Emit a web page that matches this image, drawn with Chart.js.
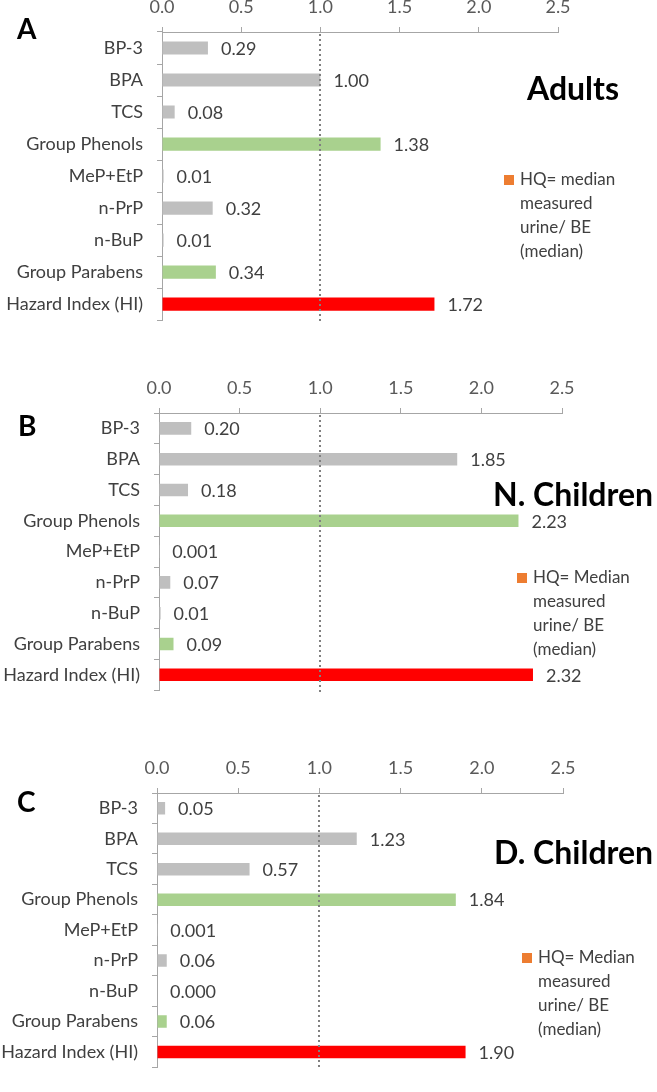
<!DOCTYPE html>
<html>
<head>
<meta charset="utf-8">
<script src="https://cdn.jsdelivr.net/npm/chart.js@4.4.1/dist/chart.umd.min.js"></script>
<style>
  html, body { margin: 0; padding: 0; background: #fff; }
  body { width: 657px; height: 1092px; position: relative; overflow: hidden; font-family: Lato, sans-serif; }
  canvas { position: absolute; left: 0; }
  .letter { position: absolute; font: bold 28px Lato, sans-serif; line-height: 1; color: #000; }
  .title  { position: absolute; font: bold 32px Lato, sans-serif; line-height: 1; color: #000; white-space: nowrap; }
  .legend { position: absolute; font: 17px Lato, sans-serif; line-height: 24px; color: #404040; white-space: nowrap; }
  .sq     { position: absolute; width: 10px; height: 10px; background: #ed7d31; }
</style>
</head>
<body>

<canvas id="chartA" width="657" height="345" style="top:0px"></canvas>
<canvas id="chartB" width="657" height="365" style="top:350px"></canvas>
<canvas id="chartC" width="657" height="362" style="top:730px"></canvas>

<div class="letter" style="left:17px;top:14px">A</div>
<div class="title"  style="left:527px;top:72px">Adults</div>
<div class="sq"     style="left:504px;top:175px"></div>
<div class="legend" style="left:520px;top:167px">HQ= median<br>measured<br>urine/ BE<br>(median)</div>

<div class="letter" style="left:18px;top:411px">B</div>
<div class="title"  style="left:493px;top:478px">N. Children</div>
<div class="sq"     style="left:517px;top:573px"></div>
<div class="legend" style="left:533px;top:565px">HQ= Median<br>measured<br>urine/ BE<br>(median)</div>

<div class="letter" style="left:17px;top:787px">C</div>
<div class="title"  style="left:494px;top:836px">D. Children</div>
<div class="sq"     style="left:522px;top:953px"></div>
<div class="legend" style="left:538px;top:945px">HQ= Median<br>measured<br>urine/ BE<br>(median)</div>

<script>
// ── Data ─────────────────────────────────────────────────
const categories = ['BP-3', 'BPA', 'TCS', 'Group Phenols', 'MeP+EtP', 'n-PrP', 'n-BuP', 'Group Parabens', 'Hazard Index (HI)'];

const adultsHQ       = [0.29, 1.00, 0.08, 1.38, 0.01, 0.32, 0.01, 0.34, 1.72];
const adultsText     = ['0.29', '1.00', '0.08', '1.38', '0.01', '0.32', '0.01', '0.34', '1.72'];

const nChildrenHQ    = [0.20, 1.85, 0.18, 2.23, 0.001, 0.07, 0.01, 0.09, 2.32];
const nChildrenText  = ['0.20', '1.85', '0.18', '2.23', '0.001', '0.07', '0.01', '0.09', '2.32'];

const dChildrenHQ    = [0.05, 1.23, 0.57, 1.84, 0.001, 0.06, 0.000, 0.06, 1.90];
const dChildrenText  = ['0.05', '1.23', '0.57', '1.84', '0.001', '0.06', '0.000', '0.06', '1.90'];

const xTicks    = [0, 0.5, 1.0, 1.5, 2.0, 2.5];
const threshold = 1.0;

// ── Styles ───────────────────────────────────────────────
const GRAY = '#bfbfbf', GREEN = '#a9d18e', RED = '#ff0000';
const barColors = [GRAY, GRAY, GRAY, GREEN, GRAY, GRAY, GRAY, GREEN, RED];
const AXIS = '#a6a6a6';
const FONT = { family: 'Lato', size: 18 };

// data labels + dotted HQ=1 line
const barLabels = {
  id: 'barLabels',
  afterDatasetsDraw(chart, args, opts) {
    const ctx  = chart.ctx;
    const area = chart.chartArea;
    const xs   = chart.scales.x;

    const xp = Math.round(xs.getPixelForValue(threshold));
    ctx.save();
    ctx.strokeStyle = '#808080';
    ctx.lineWidth = 2;
    ctx.setLineDash([2, 3]);
    ctx.beginPath();
    ctx.moveTo(xp, area.top + 2);
    ctx.lineTo(xp, area.bottom + 2);
    ctx.stroke();
    ctx.restore();

    ctx.save();
    ctx.font = '18px Lato';
    ctx.fillStyle = '#404040';
    ctx.textBaseline = 'middle';
    ctx.textAlign = 'left';
    chart.getDatasetMeta(0).data.forEach((bar, i) => {
      ctx.fillText(opts.texts[i], bar.x + 13, bar.y + 1);
    });
    ctx.restore();
  }
};

function renderPanel(id, values, texts, box) {
  const canvas = document.getElementById(id);
  const W = canvas.width, H = canvas.height;

  return new Chart(canvas, {
    type: 'bar',
    data: {
      labels: categories,
      datasets: [{
        data: values,
        backgroundColor: barColors,
        borderWidth: 0,
        barPercentage: 0.41,
        categoryPercentage: 1.0,
      }]
    },
    options: {
      indexAxis: 'y',
      responsive: false,
      maintainAspectRatio: false,
      animation: false,
      layout: { padding: { top: 0, left: 0, right: W - box.right, bottom: H - box.bottom } },
      scales: {
        x: {
          position: 'top',
          min: 0,
          max: 2.5,
          afterBuildTicks: s => { s.ticks = xTicks.map(v => ({ value: v })); },
          afterFit: s => { s.height = box.top; },
          ticks: {
            font: FONT,
            color: '#595959',
            padding: 9,
            callback: v => Number(v).toFixed(1),
          },
          grid:   { drawOnChartArea: false, tickLength: 5, color: AXIS },
          border: { color: AXIS, width: 1 },
        },
        y: {
          afterFit: s => { s.width = box.left; },
          ticks: {
            font: FONT,
            color: '#404040',
            padding: 14,
            autoSkip: false,
          },
          grid:   { drawOnChartArea: false, tickLength: 5, color: AXIS },
          border: { color: AXIS, width: 1 },
        },
      },
      plugins: {
        legend:  { display: false },
        tooltip: { enabled: false },
        barLabels: { texts },
      }
    },
    plugins: [barLabels]
  });
}

renderPanel('chartA', adultsHQ,    adultsText,    { left: 162, right: 558, top: 32, bottom: 328 });
renderPanel('chartB', nChildrenHQ, nChildrenText, { left: 159, right: 562, top: 63, bottom: 359 });
renderPanel('chartC', dChildrenHQ, dChildrenText, { left: 157, right: 563, top: 63, bottom: 359 });
</script>
</body>
</html>
